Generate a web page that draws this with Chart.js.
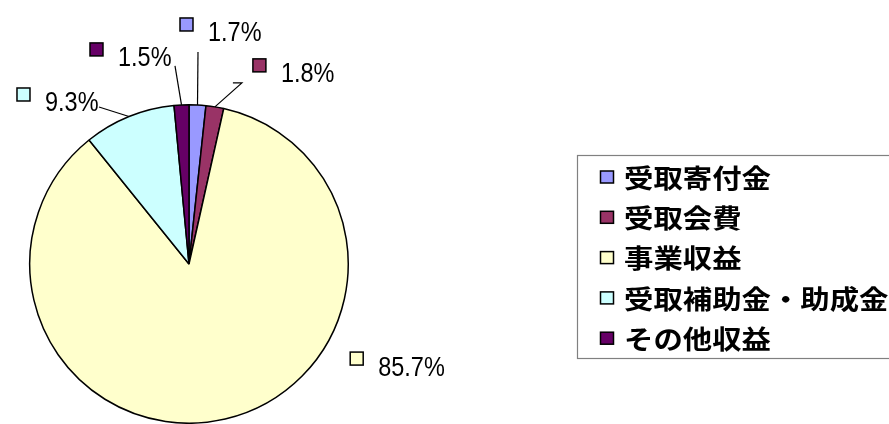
<!DOCTYPE html>
<html>
<head>
<meta charset="utf-8">
<script src="https://cdn.jsdelivr.net/npm/chart.js@4"></script>
<style>
  body { margin: 0; background: #fff; }
  #wrap { width: 889px; height: 424px; position: relative; }
</style>
</head>
<body>
<div id="wrap"><canvas id="chart" width="889" height="424"></canvas></div>
<script>
// data
var labels = ['受取寄付金', '受取会費', '事業収益', '受取補助金・助成金', 'その他収益'];
var values = [1.7, 1.8, 85.7, 9.3, 1.5];
var colors = ['#9999FF', '#993366', '#FFFFCC', '#CCFFFF', '#660066'];

// where each percent label sits, relative to the outer middle of its slice,
// and the leader line bend points relative to the label anchor
var labelOffsets = [
    { dx: -17.5, dy: -72, leader: [[18, 19]] },
    { dx: 38, dy: -33, leader: [[-11, 9], [-20, 9]] },
    { dx: 125, dy: -52, leader: [] },
    { dx: -112, dy: -13.5, leader: [[82, 4]] },
    { dx: -91.5, dy: -47, leader: [[85, 8]] }
];

// draw text squeezed/stretched horizontally
function drawText(ctx, txt, x, y, sx) {
    ctx.save();
    ctx.translate(x, y);
    ctx.scale(sx, 1);
    ctx.fillText(txt, 0, 0);
    ctx.restore();
}

var labelPlugin = {
    id: 'pieLabels',
    afterDatasetsDraw: function(chart) {
        var ctx = chart.ctx;
        var meta = chart.getDatasetMeta(0);
        ctx.save();
        meta.data.forEach(function(arc, i) {
            var mid = (arc.startAngle + arc.endAngle) / 2;
            var ox = arc.x + Math.cos(mid) * arc.outerRadius;
            var oy = arc.y + Math.sin(mid) * arc.outerRadius;
            var off = labelOffsets[i];
            var ax = ox + off.dx, ay = oy + off.dy;

            // leader line
            if (off.leader.length) {
                ctx.beginPath();
                ctx.moveTo(ox, oy);
                off.leader.forEach(function(p) { ctx.lineTo(ax + p[0], ay + p[1]); });
                ctx.strokeStyle = '#000';
                ctx.lineWidth = 1.2;
                ctx.stroke();
            }

            // square key
            ctx.fillStyle = colors[i];
            ctx.fillRect(ax, ay - 15, 13, 13);
            ctx.strokeStyle = '#000';
            ctx.lineWidth = 1.5;
            ctx.strokeRect(ax, ay - 15, 13, 13);

            ctx.fillStyle = '#000';
            ctx.font = '27px "Liberation Sans", Arial, sans-serif';
            ctx.textBaseline = 'middle';
            ctx.textAlign = 'left';
            drawText(ctx, values[i].toFixed(1) + '%', ax + 28, ay + 1, 0.87);
        });

        // legend box
        ctx.strokeStyle = '#808080';
        ctx.lineWidth = 1.2;
        ctx.strokeRect(577.5, 155.5, 330, 203);
        ctx.font = 'bold 26px "Noto Sans CJK JP", sans-serif';
        ctx.textBaseline = 'middle';
        labels.forEach(function(l, i) {
            var y = 177 + i * 40.3;
            ctx.fillStyle = colors[i];
            ctx.fillRect(600.5, y - 6, 13, 12);
            ctx.strokeStyle = '#000';
            ctx.lineWidth = 1.5;
            ctx.strokeRect(600.5, y - 6, 13, 12);
            ctx.fillStyle = '#000';
            drawText(ctx, l, 624, y + 1, 1.13);
        });
        ctx.restore();
    }
};

var ctx = document.getElementById('chart');
var chart = new Chart(ctx, {
    type: 'pie',
    data: {
        labels: labels,
        datasets: [{
            data: values,
            backgroundColor: colors,
            borderColor: '#000',
            borderWidth: 1.5
        }]
    },
    options: {
        responsive: false,
        animation: false,
        layout: { padding: { left: 29, right: 540, top: 104, bottom: 0 } },
        plugins: {
            legend: { display: false },
            tooltip: { enabled: false }
        }
    },
    plugins: [labelPlugin]
});
</script>
</body>
</html>
